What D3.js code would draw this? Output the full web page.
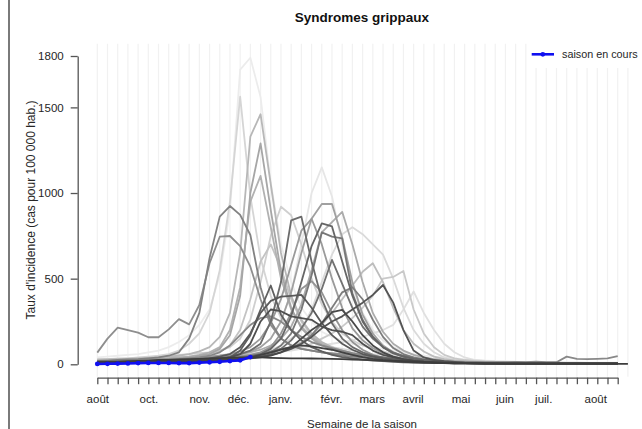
<!DOCTYPE html>
<html>
<head>
<meta charset="utf-8">
<script src="https://cdn.jsdelivr.net/npm/d3@7"></script>
<style>
  body { margin: 0; background: #fff; }
  svg { display: block; font-family: "Liberation Sans", Arial, sans-serif; }
</style>
</head>
<body>
<svg id="chart" width="642" height="429"></svg>
<script>
// tick labels (months) and where they sit on the week axis
var monthLabels = ['août', 'oct.', 'nov.', 'déc.', 'janv.', 'févr.', 'mars', 'avril', 'mai', 'juin', 'juil.', 'août']
var monthWeeks = [0, 5, 10, 13.8, 17.9, 22.9, 26.9, 30.9, 35.6, 39.9, 43.7, 48.8]
var yTicks = [0, 500, 1000, 1500, 1800]

// current season (blue)
var saisonEnCours = [2, 3, 4, 5, 7, 8, 8, 8, 7, 7, 10, 12, 15, 19, 23, 42]

// past seasons, oldest (lightest) first
var saison01 = [40, 45, 50, 55, 60, 70, 80, 100, 130, 170, 230, 320, 520, 900, 1720, 1790, 1560, 1060, 700, 480, 330, 250, 190, 160, 140, 120, 110, 100, 90, 80, 70, 60, 50, 45, 40, 35, 30, 25, 22, 20, 18, 15, 14, 12, 12, 10, 10, 10, 10, 10, 10, 10]
var saison02 = [20, 22, 25, 25, 28, 30, 32, 35, 38, 40, 45, 50, 55, 60, 70, 80, 100, 150, 250, 420, 700, 1000, 1150, 980, 700, 450, 300, 200, 140, 100, 75, 55, 40, 30, 25, 20, 18, 15, 14, 12, 12, 10, 10, 10, 9, 9, 8, 8, 8, 8, 8, 8]
var saison03 = [25, 25, 28, 28, 30, 30, 32, 35, 35, 38, 40, 42, 45, 50, 55, 60, 65, 70, 75, 80, 90, 100, 110, 120, 130, 140, 160, 180, 200, 230, 320, 425, 300, 200, 120, 70, 40, 25, 20, 15, 12, 10, 10, 9, 9, 8, 8, 8, 8, 8, 8, 8]
var saison04 = [20, 20, 22, 22, 25, 25, 28, 30, 30, 32, 35, 38, 40, 45, 50, 60, 70, 85, 110, 150, 200, 320, 480, 640, 760, 800, 760, 700, 640, 500, 330, 200, 120, 70, 40, 25, 18, 14, 12, 10, 10, 9, 9, 8, 8, 8, 8, 8, 8, 8, 8, 8]
var saison05 = [30, 30, 35, 35, 40, 45, 50, 60, 80, 120, 180, 300, 550, 950, 1563, 980, 620, 400, 270, 200, 160, 130, 110, 100, 90, 80, 70, 60, 55, 50, 45, 40, 35, 30, 28, 25, 22, 20, 18, 15, 14, 12, 12, 10, 10, 10, 9, 9, 8, 8, 8, 8]
var saison06 = [30, 30, 32, 35, 38, 40, 45, 50, 55, 60, 65, 70, 80, 100, 150, 260, 480, 750, 920, 870, 700, 500, 350, 250, 180, 140, 110, 90, 75, 60, 50, 40, 35, 30, 25, 20, 18, 15, 14, 12, 12, 10, 10, 10, 9, 9, 8, 8, 8, 8, 8, 8]
var saison07 = [20, 20, 22, 22, 25, 25, 28, 30, 30, 32, 35, 38, 40, 45, 50, 55, 60, 70, 80, 90, 100, 120, 150, 180, 220, 270, 330, 400, 500, 510, 545, 320, 180, 100, 55, 35, 25, 20, 15, 12, 10, 10, 9, 9, 8, 8, 8, 8, 8, 8, 8, 8]
var saison08 = [25, 25, 28, 30, 30, 32, 35, 38, 40, 45, 50, 60, 75, 110, 200, 380, 600, 700, 560, 380, 250, 170, 120, 90, 70, 55, 45, 38, 32, 28, 24, 20, 18, 15, 14, 12, 10, 10, 9, 9, 8, 8, 8, 8, 8, 8, 8, 8, 8, 8, 8, 8]
var saison09 = [20, 22, 22, 25, 25, 28, 30, 30, 32, 35, 38, 40, 42, 45, 50, 55, 60, 70, 85, 100, 130, 170, 230, 300, 380, 460, 540, 590, 480, 330, 200, 120, 75, 45, 30, 22, 18, 14, 12, 10, 10, 9, 9, 8, 8, 8, 8, 8, 8, 8, 8, 8]
var saison10 = [25, 28, 30, 32, 35, 38, 40, 45, 50, 60, 75, 100, 160, 300, 650, 1330, 1460, 1050, 650, 400, 260, 180, 130, 100, 80, 65, 55, 45, 40, 35, 30, 25, 22, 20, 18, 15, 14, 12, 12, 10, 10, 10, 9, 9, 8, 8, 8, 8, 8, 8, 8, 8]
var saison11 = [20, 22, 25, 25, 28, 30, 32, 35, 40, 45, 55, 70, 100, 200, 450, 950, 1100, 800, 500, 320, 220, 160, 120, 95, 80, 65, 55, 45, 38, 32, 28, 24, 20, 18, 15, 14, 12, 10, 10, 9, 9, 8, 8, 8, 8, 8, 8, 8, 8, 8, 8, 8]
var saison12 = [20, 20, 22, 25, 25, 28, 30, 32, 35, 38, 40, 45, 50, 55, 60, 70, 85, 110, 150, 220, 350, 550, 770, 830, 890, 700, 480, 300, 190, 120, 80, 55, 40, 30, 22, 18, 15, 12, 10, 10, 9, 9, 8, 8, 8, 8, 8, 8, 8, 8, 8, 8]
var saison13 = [15, 18, 20, 22, 25, 28, 30, 32, 35, 40, 50, 60, 90, 170, 400, 1000, 1290, 900, 540, 330, 210, 150, 110, 85, 70, 55, 45, 38, 32, 28, 24, 20, 18, 15, 14, 12, 10, 10, 9, 9, 8, 8, 8, 8, 8, 8, 8, 8, 8, 8, 8, 8]
var saison14 = [15, 15, 18, 20, 22, 25, 28, 30, 32, 35, 38, 40, 45, 50, 60, 75, 100, 150, 250, 420, 650, 850, 936, 936, 740, 480, 290, 180, 110, 70, 45, 32, 25, 20, 15, 12, 10, 10, 9, 9, 8, 8, 8, 8, 8, 8, 8, 8, 8, 8, 8, 8]
var saison15 = [20, 20, 22, 22, 25, 25, 28, 30, 32, 35, 40, 45, 50, 60, 75, 100, 150, 240, 380, 580, 780, 850, 700, 500, 330, 210, 140, 95, 65, 45, 35, 28, 22, 18, 15, 12, 10, 10, 9, 9, 8, 8, 8, 8, 8, 8, 8, 8, 8, 8, 8, 8]
var saison16 = [18, 18, 20, 20, 22, 22, 25, 25, 28, 30, 32, 35, 38, 42, 48, 55, 70, 100, 180, 300, 440, 485, 420, 300, 200, 130, 85, 55, 38, 28, 20, 16, 13, 11, 10, 9, 8, 8, 8, 7, 7, 7, 7, 7, 7, 7, 7, 7, 7, 7, 7, 7]
var saison17 = [68, 150, 214, 200, 185, 158, 158, 204, 264, 233, 346, 590, 745, 749, 690, 570, 380, 230, 150, 110, 90, 80, 70, 65, 60, 55, 50, 45, 40, 35, 30, 25, 22, 20, 18, 15, 14, 12, 10, 10, 9, 9, 8, 8, 8, 8, 8, 8, 8, 8, 8, 8]
var saison18 = [15, 15, 16, 18, 20, 22, 25, 28, 30, 35, 40, 50, 70, 110, 170, 230, 270, 280, 250, 200, 160, 130, 110, 95, 80, 65, 55, 45, 38, 32, 26, 22, 18, 15, 13, 12, 11, 10, 10, 10, 12, 14, 12, 15, 12, 12, 45, 32, 30, 32, 35, 48]
var saison19 = [20, 22, 25, 28, 30, 35, 40, 50, 70, 150, 300, 620, 862, 924, 872, 755, 450, 250, 150, 110, 90, 80, 70, 60, 50, 45, 40, 35, 30, 28, 25, 22, 20, 18, 15, 12, 10, 10, 9, 9, 8, 8, 8, 8, 8, 8, 8, 8, 8, 8, 8, 8]
var saison20 = [12, 12, 14, 14, 15, 16, 18, 20, 22, 24, 26, 28, 30, 35, 40, 50, 60, 75, 90, 100, 120, 170, 240, 330, 420, 450, 380, 260, 160, 95, 60, 40, 28, 20, 15, 12, 10, 9, 8, 8, 7, 7, 7, 7, 6, 6, 6, 6, 6, 6, 6, 6]
var saison21 = [12, 12, 12, 14, 14, 15, 16, 18, 20, 22, 24, 26, 28, 32, 36, 40, 50, 70, 110, 180, 320, 520, 770, 745, 735, 414, 260, 160, 100, 65, 45, 32, 24, 18, 14, 10, 8, 7, 6, 6, 5, 5, 5, 5, 5, 5, 5, 5, 5, 5, 5, 5]
var saison22 = [12, 12, 12, 14, 14, 15, 16, 18, 20, 22, 24, 26, 28, 30, 34, 38, 45, 60, 90, 140, 210, 300, 440, 610, 470, 330, 220, 150, 100, 70, 50, 35, 25, 18, 14, 10, 8, 7, 6, 6, 5, 5, 5, 5, 5, 5, 5, 5, 5, 5, 5, 5]
var saison23 = [10, 10, 12, 12, 14, 15, 16, 18, 20, 22, 25, 30, 35, 45, 60, 80, 120, 250, 480, 840, 862, 600, 380, 240, 150, 100, 70, 50, 40, 30, 25, 20, 15, 12, 10, 8, 7, 6, 6, 5, 5, 5, 5, 5, 5, 5, 5, 5, 5, 5, 5, 5]
var saison24 = [10, 10, 10, 12, 12, 14, 15, 16, 18, 20, 22, 24, 26, 30, 35, 45, 60, 90, 150, 280, 480, 690, 823, 805, 600, 400, 250, 160, 100, 65, 45, 32, 25, 18, 14, 10, 8, 7, 6, 6, 5, 5, 5, 5, 5, 5, 5, 5, 5, 5, 5, 5]
var saison25 = [10, 10, 10, 12, 12, 14, 15, 16, 18, 20, 22, 25, 30, 40, 80, 170, 320, 460, 290, 200, 140, 100, 75, 55, 42, 35, 28, 22, 18, 15, 12, 10, 9, 8, 7, 6, 6, 5, 5, 5, 5, 5, 5, 5, 5, 5, 5, 5, 5, 5, 5, 5]
var saison26 = [10, 10, 12, 12, 14, 15, 16, 18, 20, 25, 30, 35, 45, 60, 100, 180, 300, 370, 395, 400, 405, 330, 240, 170, 120, 85, 60, 45, 35, 28, 22, 18, 14, 12, 10, 8, 7, 6, 6, 5, 5, 5, 5, 5, 5, 5, 5, 5, 5, 5, 5, 5]
var saison27 = [10, 10, 10, 12, 12, 14, 15, 16, 18, 20, 22, 24, 26, 30, 35, 40, 45, 55, 70, 90, 120, 160, 210, 250, 280, 320, 360, 405, 463, 360, 200, 80, 40, 25, 18, 14, 10, 8, 7, 6, 5, 5, 5, 5, 5, 5, 5, 5, 5, 5, 5, 5]
var saison28 = [10, 10, 10, 12, 12, 14, 15, 16, 18, 20, 22, 25, 30, 40, 60, 120, 250, 320, 310, 280, 270, 260, 220, 200, 190, 170, 120, 80, 55, 40, 30, 22, 16, 12, 10, 8, 7, 6, 6, 5, 5, 5, 5, 5, 5, 5, 5, 5, 5, 5, 5, 5]
var saison29 = [10, 10, 10, 12, 12, 12, 14, 15, 16, 18, 20, 22, 24, 26, 30, 35, 40, 50, 70, 100, 150, 200, 240, 305, 318, 250, 170, 110, 70, 45, 30, 20, 15, 12, 10, 8, 7, 6, 6, 5, 5, 5, 5, 5, 5, 5, 5, 5, 5, 5, 5, 5]
var saison30 = [8, 8, 8, 10, 10, 10, 12, 12, 14, 15, 16, 18, 20, 25, 30, 40, 55, 70, 85, 100, 110, 105, 95, 85, 70, 55, 42, 32, 25, 20, 15, 12, 10, 8, 7, 6, 5, 5, 4, 4, 4, 4, 4, 4, 4, 4, 4, 4, 4, 4, 4, 4]
var saison31 = [15, 15, 15, 18, 20, 22, 25, 25, 28, 30, 32, 34, 36, 38, 40, 40, 40, 38, 36, 35, 35, 34, 33, 32, 30, 28, 26, 24, 22, 20, 18, 15, 12, 10, 8, 6, 5, 5, 4, 4, 3, 3, 3, 3, 3, 3, 3, 3, 3, 3, 3, 3, 3]

var saisons = [saison01, saison02, saison03, saison04, saison05, saison06, saison07, saison08,
  saison09, saison10, saison11, saison12, saison13, saison14, saison15, saison16, saison17,
  saison18, saison19, saison20, saison21, saison22, saison23, saison24, saison25, saison26,
  saison27, saison28, saison29, saison30, saison31]

var svg = d3.select('#chart')

var x = d3.scaleLinear().domain([0, 51]).range([97.3, 617.7])
var y = d3.scaleLinear().domain([0, 1800]).range([364.3, 56])
var grey = d3.scaleLinear().domain([0, saisons.length - 1]).range(['#ececec', '#3c3c3c'])

// left frame line
svg.append('line')
  .attr('x1', 9).attr('x2', 9).attr('y1', 0).attr('y2', 429)
  .attr('stroke', '#7a7a7a').attr('stroke-width', 2)

// weekly vertical grid
svg.append('g').selectAll('line')
  .data(d3.range(53))
  .join('line')
  .attr('x1', d => x(d)).attr('x2', d => x(d))
  .attr('y1', y(1872)).attr('y2', y(-72))
  .attr('stroke', '#f1f1f1').attr('stroke-width', 1.2)

var line = d3.line()
  .x(function (d, i) { return x(i) })
  .y(function (d) { return y(d) })

svg.append('g').selectAll('path')
  .data(saisons)
  .join('path')
  .attr('d', line)
  .attr('fill', 'none')
  .attr('stroke', function (d, i) { return grey(i) })
  .attr('stroke-width', 1.8)
  .attr('stroke-linejoin', 'round')

// current season
svg.append('path')
  .datum(saisonEnCours)
  .attr('d', line)
  .attr('fill', 'none')
  .attr('stroke', '#1010f0')
  .attr('stroke-width', 2.6)

svg.append('g').selectAll('circle')
  .data(saisonEnCours)
  .join('circle')
  .attr('cx', function (d, i) { return x(i) })
  .attr('cy', function (d) { return y(d) })
  .attr('r', 2.4)
  .attr('fill', '#1010f0')

// axes
svg.append('g')
  .attr('transform', 'translate(77.7,0)')
  .call(d3.axisLeft(y).tickValues(yTicks).tickFormat(d3.format('d'))
    .tickSize(7).tickSizeOuter(0).tickPadding(7))

svg.append('g')
  .attr('transform', 'translate(0,377.7)')
  .call(d3.axisBottom(x).tickValues(d3.range(52)).tickFormat('').tickSize(6.5).tickSizeOuter(0))

var xLabels = svg.append('g')
  .attr('transform', 'translate(0,377.7)')
  .call(d3.axisBottom(x).tickValues(monthWeeks).tickSize(0).tickPadding(17)
    .tickFormat(function (d, i) { return monthLabels[i] }))
xLabels.select('.domain').remove()

svg.selectAll('.domain, .tick line')
  .attr('stroke', '#555').attr('stroke-width', 1.3)
svg.selectAll('.tick text')
  .attr('fill', '#262626')
  .style('font-size', '11.5px')
  .style('font-family', '"Liberation Sans", Arial, sans-serif')

// titles
svg.append('text')
  .attr('x', 362).attr('y', 22)
  .attr('text-anchor', 'middle')
  .style('font-size', '13.5px').style('font-weight', 'bold')
  .attr('fill', '#111')
  .text('Syndromes grippaux')

svg.append('text')
  .attr('x', 362).attr('y', 428)
  .attr('text-anchor', 'middle')
  .style('font-size', '11.5px')
  .attr('fill', '#262626')
  .text('Semaine de la saison')

svg.append('text')
  .attr('transform', 'translate(35,210) rotate(-90)')
  .attr('text-anchor', 'middle')
  .style('font-size', '12px')
  .attr('fill', '#262626')
  .text("Taux d'incidence (cas pour 100 000 hab.)")

// legend
var legend = svg.append('g')
legend.append('rect')
  .attr('x', 527).attr('y', 43).attr('width', 115).attr('height', 25)
  .attr('fill', '#fff')
legend.append('line')
  .attr('x1', 531.7).attr('x2', 554).attr('y1', 54.3).attr('y2', 54.3)
  .attr('stroke', '#1010f0').attr('stroke-width', 2.6)
legend.append('circle')
  .attr('cx', 542.8).attr('cy', 54.3).attr('r', 2.4)
  .attr('fill', '#1010f0')
legend.append('text')
  .attr('x', 562).attr('y', 58)
  .style('font-size', '10.8px')
  .attr('fill', '#262626')
  .text('saison en cours')
</script>
</body>
</html>
